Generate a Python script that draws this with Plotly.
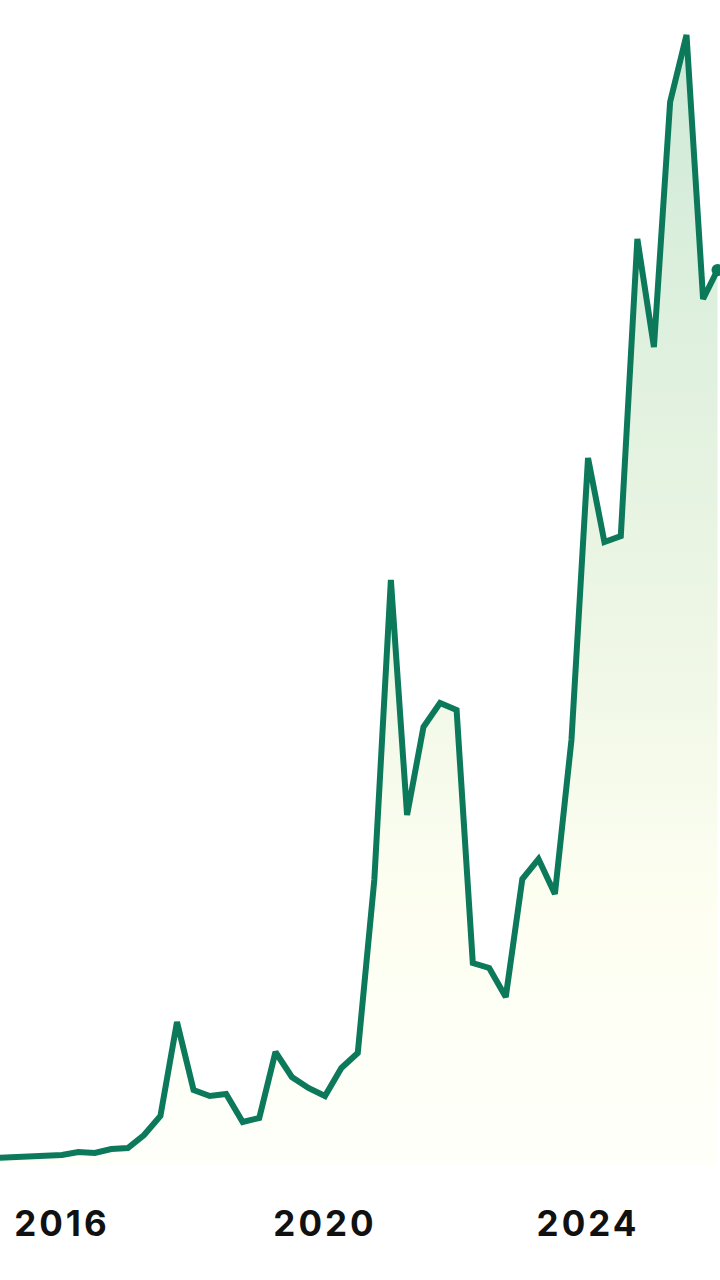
import plotly.graph_objects as go

dates = [
    "2015-01-01", "2015-04-01", "2015-07-01", "2015-10-01",
    "2016-01-01", "2016-04-01", "2016-07-01", "2016-10-01",
    "2017-01-01", "2017-04-01", "2017-07-01", "2017-10-01",
    "2018-01-01", "2018-04-01", "2018-07-01", "2018-10-01",
    "2019-01-01", "2019-04-01", "2019-07-01", "2019-10-01",
    "2020-01-01", "2020-04-01", "2020-07-01", "2020-10-01",
    "2021-01-01", "2021-04-01", "2021-07-01", "2021-10-01",
    "2022-01-01", "2022-04-01", "2022-07-01", "2022-10-01",
    "2023-01-01", "2023-04-01", "2023-07-01", "2023-10-01",
    "2024-01-01", "2024-04-01", "2024-07-01", "2024-10-01",
    "2025-01-01", "2025-04-01", "2025-07-01", "2025-10-01",
    "2025-12-20",
]
values = [
    0.7, 0.8, 0.8, 1.0,
    1.0, 1.3, 1.2, 1.6,
    1.7, 3.0, 4.9, 14.3,
    7.5, 6.9, 7.1, 4.3,
    4.7, 11.3, 8.8, 7.7,
    6.9, 9.7, 11.2, 28.5,
    58.5, 35.0, 43.8, 46.2,
    45.5, 20.2, 19.7, 16.8,
    28.6, 30.6, 27.1, 42.5,
    70.7, 62.3, 62.9, 92.6,
    81.8, 106.3, 113.0, 86.6,
    89.5,
]
tick_vals = ["2016-01-01", "2020-01-01", "2024-01-01"]
tick_labels = ["2016", "2020", "2024"]

LINE = "#0c7a5a"

fig = go.Figure()
fig.add_trace(go.Scatter(
    x=dates, y=values, mode="lines",
    line=dict(color=LINE, width=6),
    fill="tozeroy",
    fillgradient=dict(
        type="vertical", start=0, stop=115,
        colorscale=[
            [0.0, "#fffffa"],
            [0.21, "#fefff2"],
            [0.47, "#eef6e5"],
            [0.77, "#dcefdd"],
            [0.92, "#d3ebd9"],
            [1.0, "#cfe9d6"],
        ],
    ),
    hoverinfo="skip", showlegend=False,
))
fig.add_trace(go.Scatter(
    x=[dates[-1]], y=[values[-1]], mode="markers",
    marker=dict(color=LINE, size=12),
    hoverinfo="skip", showlegend=False, cliponaxis=True,
))

fig.update_layout(
    width=720, height=1280,
    margin=dict(l=0, r=0, t=0, b=80),
    paper_bgcolor="white", plot_bgcolor="white",
    xaxis=dict(
        type="date", range=["2015-01-22", "2026-01-03"],
        tickvals=tick_vals,
        ticktext=['<span style="letter-spacing:3px">%s</span>' % t for t in tick_labels],
        showgrid=False, zeroline=False, showline=False, ticks="",
        tickfont=dict(family="Inter", size=35, color="#111111", weight=700),
    ),
    yaxis=dict(
        range=[-3.5, 116.5], visible=False, showgrid=False, zeroline=False,
    ),
)

fig.write_html(
    "out.html",
    config={"displayModeBar": False, "staticPlot": True},
    post_script="document.body.style.margin='0';document.body.style.padding='0';",
)
